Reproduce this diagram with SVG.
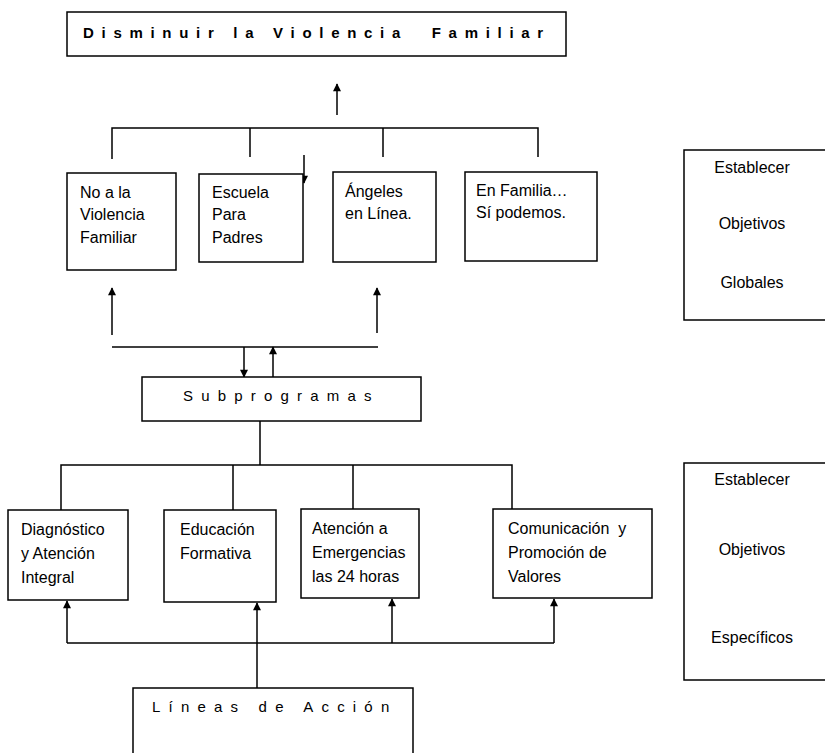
<svg xmlns="http://www.w3.org/2000/svg" width="825" height="753" viewBox="0 0 825 753">
<defs>
<marker id="ah" viewBox="0 0 10 10" refX="9" refY="5" markerWidth="9" markerHeight="8" markerUnits="userSpaceOnUse" orient="auto">
<path d="M0,0 L10,5 L0,10 z" fill="#000"/>
</marker>
<style>
.box{fill:#fff;stroke:#000;stroke-width:1.5}
.ln{fill:none;stroke:#000;stroke-width:1.5}
.ar{fill:none;stroke:#000;stroke-width:1.5;marker-end:url(#ah)}
.t{font-family:"Liberation Sans",Arial,sans-serif;font-size:16px;fill:#000}
.sp{font-family:"Liberation Sans",Arial,sans-serif;font-size:15px;fill:#000;letter-spacing:8.2px}
.c{text-anchor:middle}
</style>
</defs>
<rect width="825" height="753" fill="#fff"/>

<g id="connectors">
<path class="ar" d="M337,115 L337,84"/>
<path class="ln" d="M112,159 L112,128 L538,128 L538,157 M250,128 L250,157 M383,128 L383,157"/>
<path class="ar" d="M304,155 L304,183"/>
<path class="ln" d="M171,203 L171,232"/>
<path class="ln" d="M112,347 L378,347"/>
<path class="ar" d="M112,335 L112,288"/>
<path class="ar" d="M377,333 L377,288"/>
<path class="ar" d="M244,347 L244,377"/>
<path class="ar" d="M273,377 L273,347"/>
<path class="ln" d="M260,421 L260,465 M61,510 L61,465 L512,465 L512,509 M233,465 L233,510 M353,465 L353,509"/>
<path class="ln" d="M67,643 L554,643"/>
<path class="ar" d="M67,643 L67,601"/>
<path class="ar" d="M257,688 L257,603"/>
<path class="ar" d="M392,643 L392,599"/>
<path class="ar" d="M554,643 L554,599"/>
</g>

<g id="goal">
<rect class="box" x="67" y="12" width="499" height="44"/>
<text x="83" y="38" xml:space="preserve" style="font-family:'Liberation Sans',Arial,sans-serif;font-size:15px;font-weight:bold;letter-spacing:7.7px">Disminuir la Violencia  Familiar</text>
</g>

<g id="no-violencia">
<rect class="box" x="67" y="173" width="109" height="97"/>
<text class="t" x="80" y="198">No a la</text>
<text class="t" x="80" y="220">Violencia</text>
<text class="t" x="80" y="243">Familiar</text>
</g>
<g id="escuela">
<rect class="box" x="199" y="174" width="104" height="88"/>
<text class="t" x="212" y="198">Escuela</text>
<text class="t" x="212" y="220">Para</text>
<text class="t" x="212" y="243">Padres</text>
</g>
<g id="angeles">
<rect class="box" x="333" y="172" width="103" height="90"/>
<text class="t" x="345" y="197">Ángeles</text>
<text class="t" x="345" y="219">en Línea.</text>
</g>
<g id="en-familia">
<rect class="box" x="465" y="172" width="132" height="89"/>
<text class="t" x="476" y="196">En Familia…</text>
<text class="t" x="476" y="218">Sí podemos.</text>
</g>

<g id="obj-globales">
<path class="ln" d="M825,150 L684,150 L684,320 L825,320"/>
<text class="t c" x="752" y="173">Establecer</text>
<text class="t c" x="752" y="229">Objetivos</text>
<text class="t c" x="752" y="288">Globales</text>
</g>

<g id="subprogramas">
<rect class="box" x="142" y="377" width="279" height="44"/>
<text class="sp" x="183" y="401">Subprogramas</text>
</g>

<g id="diagnostico">
<rect class="box" x="8" y="510" width="120" height="90"/>
<text class="t" x="21" y="535">Diagnóstico</text>
<text class="t" x="21" y="559">y Atención</text>
<text class="t" x="21" y="583">Integral</text>
</g>
<g id="educacion">
<rect class="box" x="164" y="510" width="112" height="92"/>
<text class="t" x="180" y="535">Educación</text>
<text class="t" x="180" y="559">Formativa</text>
</g>
<g id="atencion">
<rect class="box" x="301" y="509" width="118" height="89"/>
<text class="t" x="312" y="534">Atención a</text>
<text class="t" x="312" y="558">Emergencias</text>
<text class="t" x="312" y="582">las 24 horas</text>
</g>
<g id="comunicacion">
<rect class="box" x="493" y="509" width="159" height="89"/>
<text class="t" x="508" y="534" xml:space="preserve">Comunicación  y</text>
<text class="t" x="508" y="558">Promoción de</text>
<text class="t" x="508" y="582">Valores</text>
</g>

<g id="obj-especificos">
<path class="ln" d="M825,463 L684,463 L684,680 L825,680"/>
<text class="t c" x="752" y="485">Establecer</text>
<text class="t c" x="752" y="555">Objetivos</text>
<text class="t c" x="752" y="643">Específicos</text>
</g>

<g id="lineas">
<path class="ln" d="M133,760 L133,688 L413,688 L413,760"/>
<text class="sp" x="152" y="712">Líneas de Acción</text>
</g>
</svg>
